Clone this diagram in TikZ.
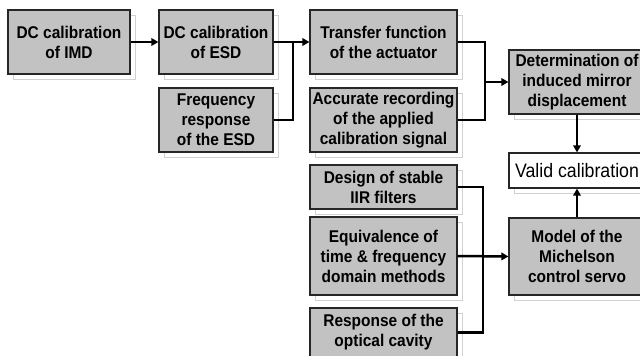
\documentclass[tikz,border=0pt]{standalone}
\usepackage{fontspec}
\setmainfont{Liberation Sans}
\newfontfamily\boxfont[FakeStretch=0.91]{Liberation Sans}
\usetikzlibrary{arrows.meta,shadows}

\tikzset{
  blockbox/.style={
    draw=black!85, line width=1.2pt, fill=gray!48,
    general shadow={shadow xshift=5pt, shadow yshift=-5pt, draw=black!18, line width=0.8pt, fill=white},
    inner sep=0pt, align=center,
    font=\boxfont\fontsize{17}{20}\selectfont\bfseries
  },
  resultbox/.style={
    draw=black!85, line width=1.2pt, fill=white,
    general shadow={shadow xshift=5pt, shadow yshift=-5pt, draw=black!18, line width=0.8pt, fill=white},
    inner sep=0pt, align=center,
    font=\boxfont\fontsize{19.5}{20}\selectfont
  },
  link/.style={line width=2.5pt, black},
  flow/.style={link, -{Triangle[length=7pt,width=7.5pt]}}
}

\begin{document}
\begin{tikzpicture}[x=1pt,y=-1pt]
  \useasboundingbox (0,0) rectangle (640,356);

  % first column
  \node[blockbox, minimum width=122pt, minimum height=64pt] (imd) at (69,42)
    {DC calibration\\of IMD};

  % second column
  \node[blockbox, minimum width=114pt, minimum height=64pt] (esd) at (216,42)
    {DC calibration\\of ESD};
  \node[blockbox, minimum width=114pt, minimum height=64pt] (freq) at (216,120)
    {Frequency\\response\\of the ESD};

  % third column
  \node[blockbox, minimum width=147pt, minimum height=64pt] (tf) at (383.5,42)
    {Transfer function\\of the actuator};
  \node[blockbox, minimum width=147pt, minimum height=64pt] (acc) at (383.5,120)
    {Accurate recording\\of the applied\\calibration signal};
  \node[blockbox, minimum width=147pt, minimum height=44pt] (iir) at (383.5,187)
    {Design of stable\\IIR filters};
  \node[blockbox, minimum width=147pt, minimum height=78pt] (eq) at (383.5,256)
    {Equivalence of\\time \& frequency\\domain methods};
  \node[blockbox, minimum width=147pt, minimum height=49pt] (resp) at (383.5,332.5)
    {Response of the\\optical cavity};

  % last column
  \node[blockbox, minimum width=136pt, minimum height=64pt] (det) at (577,82)
    {Determination of\\induced mirror\\displacement};
  \node[resultbox, minimum width=136pt, minimum height=35pt] (valid) at (577,170.5)
    {Valid calibration};
  \node[blockbox, minimum width=136pt, minimum height=77pt] (model) at (577,256.5)
    {Model of the\\Michelson\\control servo};

  % junction points
  \coordinate (j1) at (293,42);
  \coordinate (j2) at (485,82);
  \coordinate (j3) at (483,256);

  % connectors
  \draw[flow] (imd.east) -- (esd.west);
  \draw[link] (esd.east) -- (j1);
  \draw[link] (freq.east) -| (j1);
  \draw[flow] (j1) -- (tf.west);

  \draw[link] (tf.east) -| (j2);
  \draw[link] (acc.east) -| (j2);
  \draw[flow] (j2) -- (det.west);

  \draw[flow] (det.south) -- (valid.north);

  \draw[link] (iir.east) -| (j3);
  \draw[link] (resp.east) -| (j3);
  \draw[flow] (eq.east) -- (model.west);

  \draw[flow] (model.north) -- (valid.south);
\end{tikzpicture}
\end{document}
